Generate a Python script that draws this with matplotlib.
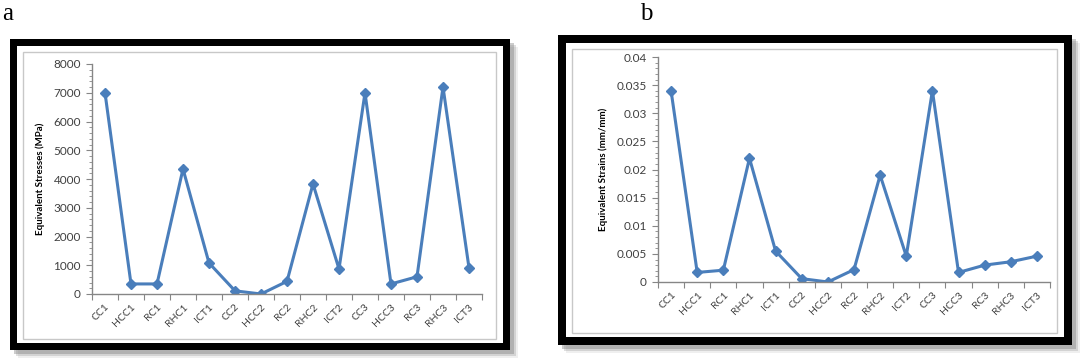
import matplotlib.pyplot as plt
from matplotlib.patches import Rectangle
from matplotlib.ticker import MultipleLocator, FixedLocator, NullFormatter

##########Data##########
categories = ['CC1', 'HCC1', 'RC1', 'RHC1', 'ICT1', 'CC2', 'HCC2', 'RC2',
              'RHC2', 'ICT2', 'CC3', 'HCC3', 'RC3', 'RHC3', 'ICT3']
stresses = [7000, 350, 350, 4350, 1080, 110, 0, 440, 3830, 870, 7000, 350, 600, 7200, 910]
strains = [0.034, 0.0017, 0.0021, 0.022, 0.0055, 0.0006, 0.0, 0.0022, 0.019, 0.0046,
           0.034, 0.0017, 0.003, 0.0036, 0.0046]

W, H = 1080, 359
LINE = '#4a7ebb'
AXC = '#868686'
TXT = '#404040'

plt.rcParams['font.family'] = ['Lato', 'DejaVu Sans']

fig = plt.figure(figsize=(W / 100, H / 100), dpi=100)


#Convert pixel box (from top-left) -> figure fractions
def box(x0, y0, x1, y1):
    return [x0 / W, 1 - y1 / H, (x1 - x0) / W, (y1 - y0) / H]


#Draw black frame with shadow, like the pasted Excel chart
def frame(x0, y0, x1, y1, t):
    for off, a in [(8, 0.12), (6, 0.25), (4, 0.4)]:
        b = box(x0 + off, y0 + off, x1 + off, y1 + off)
        fig.patches.append(Rectangle((b[0], b[1]), b[2], b[3], transform=fig.transFigure,
                                     facecolor='#808080', alpha=a, edgecolor='none', zorder=0))
    b = box(x0, y0, x1, y1)
    fig.patches.append(Rectangle((b[0], b[1]), b[2], b[3], transform=fig.transFigure,
                                 facecolor='black', edgecolor='none', zorder=1))
    b = box(x0 + t, y0 + t, x1 - t, y1 - t)
    fig.patches.append(Rectangle((b[0], b[1]), b[2], b[3], transform=fig.transFigure,
                                 facecolor='white', edgecolor='none', zorder=2))
    b = box(x0 + t + 6, y0 + t + 6, x1 - t - 7, y1 - t - 4)
    fig.patches.append(Rectangle((b[0], b[1]), b[2], b[3], transform=fig.transFigure,
                                 facecolor='none', edgecolor='#c8c8c8', lw=1, zorder=3))


#Draw one line chart in Excel style
def panel(rect, values, ymax, major, minor, ylabel, fmt, lpad):
    ax = fig.add_axes(rect)
    ax.set_zorder(5)
    ax.patch.set_alpha(0)
    x = range(1, len(values) + 1)
    ax.plot(x, values, color=LINE, lw=2.2, marker='D', ms=5.5, mfc=LINE, mec=LINE)
    ax.set_xlim(0.5, len(values) + 0.5)
    ax.set_ylim(0, ymax)
    for s in ['top', 'right']:
        ax.spines[s].set_visible(False)
    for s in ['left', 'bottom']:
        ax.spines[s].set_color(AXC)
        ax.spines[s].set_linewidth(1)
    #category boundaries get the tick marks, centers get the labels
    ax.xaxis.set_major_locator(FixedLocator([i + 0.5 for i in range(len(values) + 1)]))
    ax.xaxis.set_major_formatter(NullFormatter())
    ax.xaxis.set_minor_locator(FixedLocator(list(x)))
    ax.set_xticklabels(categories, minor=True, rotation=45, ha='right',
                       rotation_mode='anchor', fontsize=7.5, color=TXT)
    ax.tick_params(axis='x', which='major', length=4, color=AXC, direction='out')
    ax.tick_params(axis='x', which='minor', length=0, pad=6)
    ax.yaxis.set_major_locator(MultipleLocator(major))
    ax.yaxis.set_minor_locator(MultipleLocator(minor))
    ax.yaxis.set_major_formatter(fmt)
    ax.tick_params(axis='y', which='major', length=4, color=AXC, labelsize=8.5,
                   labelcolor=TXT, pad=4)
    ax.tick_params(axis='y', which='minor', length=2, color=AXC)
    ax.set_ylabel(ylabel, fontsize=7, fontweight='bold', color='black', labelpad=lpad)
    return ax


#Panel a
frame(10, 39, 510, 350, 7)
panel(box(92, 64, 482, 294), stresses, 8000, 1000, 200,
      'Equivalent Stresses (MPa)', lambda v, p: '%d' % v, 6)
fig.text(2 / W, 1 - 14 / H, 'a', family=['Liberation Serif', 'DejaVu Serif'],
         fontsize=18, va='center', ha='left')

#Panel b
frame(558, 35, 1072, 345, 8)
panel(box(658, 57, 1050, 282), strains, 0.04, 0.005, 0.001,
      'Equivalent Strains (mm/mm)', lambda v, p: '0' if v == 0 else ('%.3f' % v).rstrip('0'), 6)
fig.text(640 / W, 1 - 14 / H, 'b', family=['Liberation Serif', 'DejaVu Serif'],
         fontsize=18, va='center', ha='left')

#Save plot as .png
plt.savefig('out.png', dpi=100)
